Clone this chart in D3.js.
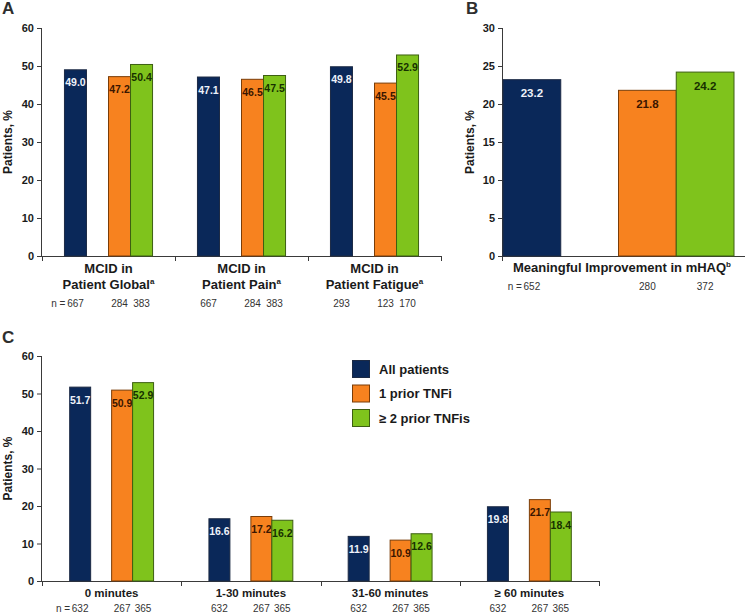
<!DOCTYPE html>
<html>
<head>
<meta charset="utf-8">
<script src="https://cdn.jsdelivr.net/npm/d3@7"></script>
<style>
  body { margin: 0; background: #fff; }
  svg { display: block; font-family: "Liberation Sans", Arial, sans-serif; }
</style>
</head>
<body>
<svg id="chart" width="746" height="613"></svg>
<script>
// ---------- data ----------
const seriesNames = ["All patients", "1 prior TNFi", "\u2265 2 prior TNFis"];
const seriesKeys = ["all", "one", "two"];

const catsA = [["MCID in", "Patient Global", "a"], ["MCID in", "Patient Pain", "a"], ["MCID in", "Patient Fatigue", "a"]];
const allA = [49.0, 47.1, 49.8];
const oneA = [47.2, 46.5, 45.5];
const twoA = [50.4, 47.5, 52.9];
const nAllA = [667, 667, 293];
const nOneA = [284, 284, 123];
const nTwoA = [383, 383, 170];
const ticksA = [0, 10, 20, 30, 40, 50, 60];

const catsB = [["Meaningful Improvement in mHAQ", "b"]];
const allB = [23.2];
const oneB = [21.8];
const twoB = [24.2];
const nAllB = [652];
const nOneB = [280];
const nTwoB = [372];
const ticksB = [0, 5, 10, 15, 20, 25, 30];

const catsC = ["0 minutes", "1-30 minutes", "31-60 minutes", "\u2265 60 minutes"];
const allC = [51.7, 16.6, 11.9, 19.8];
const oneC = [50.9, 17.2, 10.9, 21.7];
const twoC = [52.9, 16.2, 12.6, 18.4];
const nAllC = [632, 632, 632, 632];
const nOneC = [267, 267, 267, 267];
const nTwoC = [365, 365, 365, 365];
const ticksC = [0, 10, 20, 30, 40, 50, 60];

// ---------- styles ----------
const fill = { all: "#0a2859", one: "#f7821f", two: "#7fc31c" };
const stroke = { all: "#1c2a44", one: "#7a3d08", two: "#3d5f12" };
const labelColor = { all: "#eef2fa", one: "#3a1600", two: "#173000" };
const axisColor = "#3a3a3a";
const textColor = "#1a1a1a";

const svg = d3.select("#chart");

function drawPanel(opt) {
  const g = svg.append("g");
  const y = d3.scaleLinear().domain([0, opt.ymax]).range([opt.y0, opt.y1]);
  const xCat = d3.scaleBand().domain(d3.range(opt.nCats)).range([opt.x0, opt.x1]).padding(0);
  const slot = d3.scaleBand().domain(["all", "gap", "one", "two"])
    .range(opt.slotRange || [0, xCat.bandwidth()])
    .paddingInner(0).paddingOuter(opt.outer);

  // y axis
  const yAx = g.append("g").attr("transform", `translate(${opt.x0},0)`)
    .call(d3.axisLeft(y).tickValues(opt.ticks).tickSize(5).tickPadding(3).tickFormat(d3.format("d")));
  yAx.select(".domain").attr("stroke", axisColor).attr("d", `M-0.5,${opt.y0}V${opt.y1}`);
  yAx.selectAll(".tick line").attr("stroke", axisColor);
  yAx.selectAll("text").attr("font-size", 11).attr("font-weight", "bold").attr("fill", textColor)
    .attr("font-family", "Liberation Sans, Arial, sans-serif");

  // x axis line
  g.append("line").attr("x1", opt.x0).attr("x2", opt.xAxisEnd || opt.x1)
    .attr("y1", opt.y0 + 0.5).attr("y2", opt.y0 + 0.5).attr("stroke", axisColor);
  if (opt.xTicks) {
    const b = d3.range(opt.nCats + 1).map(i => i < opt.nCats ? xCat(i) : opt.x1);
    g.selectAll(".xt").data(b).enter().append("line")
      .attr("x1", d => Math.round(d) + 0.5).attr("x2", d => Math.round(d) + 0.5)
      .attr("y1", opt.y0).attr("y2", opt.y0 + 5).attr("stroke", axisColor);
  } else {
    g.append("line").attr("x1", opt.x0 - 0.5).attr("x2", opt.x0 - 0.5)
      .attr("y1", opt.y0).attr("y2", opt.y0 + 5).attr("stroke", axisColor);
  }

  // bars
  seriesKeys.forEach(k => {
    const vals = opt.data[k];
    vals.forEach((v, i) => {
      const bx = xCat(i) + slot(k);
      g.append("rect")
        .attr("x", bx).attr("y", y(v))
        .attr("width", slot.bandwidth()).attr("height", y(0) - y(v))
        .attr("fill", fill[k]).attr("stroke", stroke[k]).attr("stroke-width", 1);
      g.append("text")
        .attr("x", bx + slot.bandwidth() / 2).attr("y", y(v) + opt.labelDy)
        .attr("text-anchor", "middle").attr("font-size", opt.labelSize).attr("font-weight", "bold")
        .attr("fill", labelColor[k]).text(d3.format(".1f")(v));
      // n labels
      const n = opt.n[k][i];
      g.append("text")
        .attr("x", bx + slot.bandwidth() / 2).attr("y", opt.nY)
        .attr("text-anchor", "middle").attr("font-size", 10).attr("fill", "#333")
        .text(n);
      if (k === "all" && i === 0) {
        g.append("text")
          .attr("x", bx + slot.bandwidth() / 2 - 10).attr("y", opt.nY)
          .attr("text-anchor", "end").attr("font-size", 10).attr("fill", "#333")
          .text("n =");
      }
    });
  });

  // y title
  g.append("text")
    .attr("transform", `translate(${opt.titleX},${(opt.y0 + opt.y1) / 2}) rotate(-90)`)
    .attr("text-anchor", "middle").attr("font-size", 12).attr("font-weight", "bold")
    .attr("fill", textColor).text("Patients, %");

  // panel letter
  g.append("text").attr("x", opt.letterX).attr("y", opt.letterY)
    .attr("font-size", 17).attr("font-weight", "bold").attr("fill", "#2e2e2e").text(opt.letter);

  return { g, xCat };
}

// ---------- Panel A ----------
const pA = drawPanel({
  letter: "A", letterX: 2, letterY: 14,
  x0: 42, x1: 441, y0: 256, y1: 28, ymax: 60, nCats: 3, ticks: ticksA,
  outer: 1.02, xTicks: true, labelDy: 16.5, labelSize: 10.5, nY: 306.5, titleX: 12,
  data: { all: allA, one: oneA, two: twoA }, n: { all: nAllA, one: nOneA, two: nTwoA }
});
catsA.forEach((c, i) => {
  const cx = pA.xCat(i) + pA.xCat.bandwidth() / 2;
  pA.g.append("text").attr("x", cx).attr("y", 273).attr("text-anchor", "middle")
    .attr("font-size", 13).attr("font-weight", "bold").attr("fill", textColor).text(c[0]);
  const t = pA.g.append("text").attr("x", cx).attr("y", 289).attr("text-anchor", "middle")
    .attr("font-size", 13).attr("font-weight", "bold").attr("fill", textColor);
  t.append("tspan").text(c[1]);
  t.append("tspan").attr("font-size", 8).attr("dy", -5).text(c[2]);
});

// ---------- Panel B ----------
const pB = drawPanel({
  letter: "B", letterX: 466, letterY: 14,
  x0: 503, x1: 745, y0: 256, y1: 28, ymax: 30, nCats: 1, ticks: ticksB,
  outer: 0, slotRange: [0, 231], xTicks: false, labelDy: 17.5, labelSize: 11.5, nY: 290, titleX: 474,
  data: { all: allB, one: oneB, two: twoB }, n: { all: nAllB, one: nOneB, two: nTwoB }
});
catsB.forEach((c, i) => {
  const t = pB.g.append("text").attr("x", 622).attr("y", 272).attr("text-anchor", "middle")
    .attr("font-size", 13).attr("font-weight", "bold").attr("fill", textColor);
  t.append("tspan").text(c[0]);
  t.append("tspan").attr("font-size", 8).attr("dy", -5).text(c[1]);
});

// ---------- Panel C ----------
const pC = drawPanel({
  letter: "C", letterX: 2, letterY: 343,
  x0: 42, x1: 599, y0: 581, y1: 356, ymax: 60, nCats: 4, ticks: ticksC,
  outer: 1.32, xTicks: true, labelDy: 16.5, labelSize: 10.5, nY: 612, titleX: 12,
  data: { all: allC, one: oneC, two: twoC }, n: { all: nAllC, one: nOneC, two: nTwoC }
});
catsC.forEach((c, i) => {
  const cx = pC.xCat(i) + pC.xCat.bandwidth() / 2;
  pC.g.append("text").attr("x", cx).attr("y", 597).attr("text-anchor", "middle")
    .attr("font-size", 11.5).attr("font-weight", "bold").attr("fill", textColor).text(c);
});

// legend
const lg = svg.append("g");
seriesKeys.forEach((k, i) => {
  const ly = 360 + i * 24.5;
  lg.append("rect").attr("x", 352.5).attr("y", ly + 0.5).attr("width", 17).attr("height", 17)
    .attr("fill", fill[k]).attr("stroke", stroke[k]);
  lg.append("text").attr("x", 379).attr("y", ly + 13.5).attr("font-size", 13)
    .attr("font-weight", "bold").attr("fill", textColor).text(seriesNames[i]);
});
</script>
</body>
</html>
